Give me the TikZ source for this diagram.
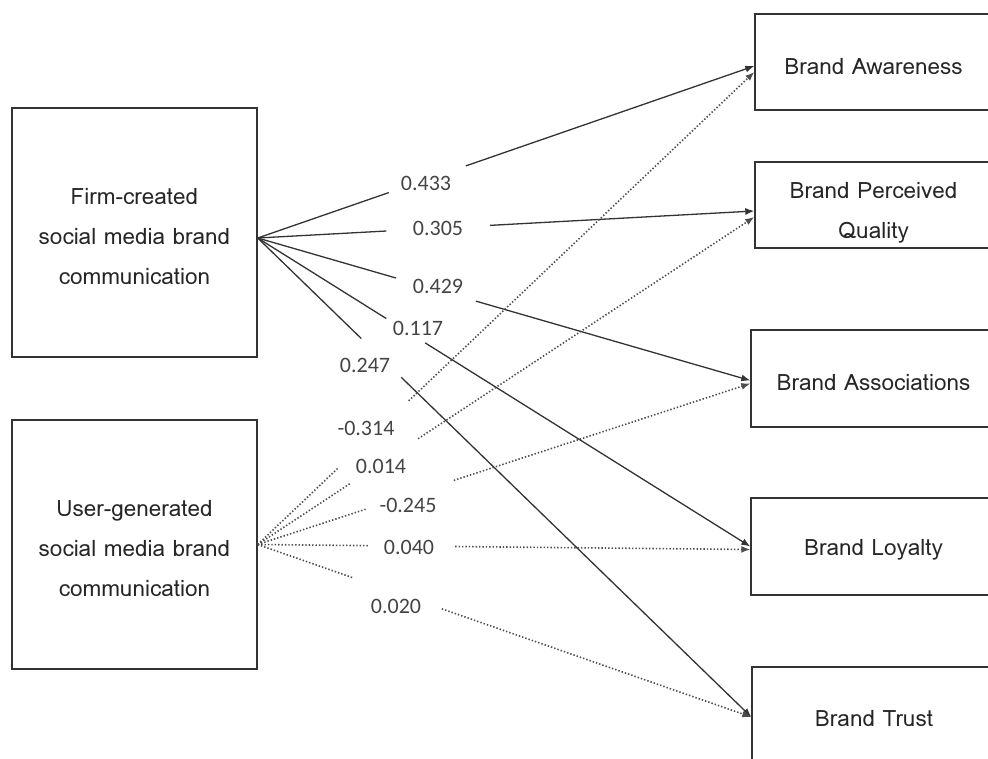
\documentclass[tikz,border=0pt]{standalone}
\usepackage{fontspec}
\setmainfont{Carlito}
\newfontfamily\boxfont{Loma}
\usetikzlibrary{calc,arrows.meta}
\definecolor{edge}{HTML}{333333}
\definecolor{dotc}{HTML}{4d4d4d}
\definecolor{numc}{HTML}{444444}
\tikzset{
  x=1pt, y=-1pt,
  frame/.style={draw=edge, line width=1.4pt, inner sep=0pt},
  caption/.style={align=center, inner sep=0pt,
    font=\boxfont\fontsize{22.5}{40}\selectfont, text=black!85},
  coef/.style={font=\fontsize{22}{24}\selectfont, text=numc, inner sep=1pt},
  firmpath/.style={draw=edge, line width=1.3pt},
  userpath/.style={draw=dotc, line width=1.6pt, dash pattern=on 1.4pt off 2pt},
  tip/.style={-{Latex[length=9pt,width=7pt]}}
}
\begin{document}
\begin{tikzpicture}
\useasboundingbox (0,0) rectangle (988,758);
\clip (0,0) rectangle (988,758);

% independent constructs
\node[frame, minimum width=245, minimum height=249] (fc) at (134.5,232.5) {};
\node[caption] (fct) at ([yshift=-4pt]fc.center) {Firm-created\\social media brand\\communication};
\node[frame, minimum width=245, minimum height=249] (uc) at (134.5,544.5) {};
\node[caption] (uct) at ([yshift=-4pt]uc.center) {User-generated\\social media brand\\communication};

% brand equity dimensions
\node[frame, minimum width=237, minimum height=96]  (ba)  at (873.5,62)    {};
\node[frame, minimum width=237, minimum height=86]  (bpq) at (873.5,205)   {};
\node[frame, minimum width=241, minimum height=97]  (bas) at (871.5,378.5) {};
\node[frame, minimum width=241, minimum height=97]  (bl)  at (871.5,546.5) {};
\node[frame, minimum width=240, minimum height=100] (bt)  at (872,717)     {};
\node[caption] (bat)  at ([yshift=-5pt]ba.center)  {Brand Awareness};
\node[caption] (bpqt) at ([yshift=-8pt]bpq.center) {Brand Perceived\\Quality};
\node[caption] (bast) at ([xshift=2pt,yshift=-4pt]bas.center) {Brand Associations};
\node[caption] (blt)  at ([xshift=2pt,yshift=-3pt]bl.center)  {Brand Loyalty};
\node[caption] (btt)  at ([xshift=2pt,yshift=-1pt]bt.center)  {Brand Trust};

% path end points
\coordinate (fo) at ([yshift=-5.5pt]fc.east);
\coordinate (uo) at (uc.east);
\coordinate (baS)  at ([yshift=-4pt]ba.west);
\coordinate (baU)  at ([yshift=-10pt]ba.west);
\coordinate (bpqS) at ([yshift=-6pt]bpq.west);
\coordinate (bpqU) at ([yshift=-12pt]bpq.west);
\coordinate (basS) at ([yshift=-2pt]bas.west);
\coordinate (basU) at ([yshift=-5pt]bas.west);
\coordinate (blS)  at ([yshift=0pt]bl.west);
\coordinate (blU)  at ([yshift=-3pt]bl.west);
\coordinate (btS)  at (bt.west);
\coordinate (btU)  at (bt.west);

% firm-created paths (solid), broken around their coefficients
\path[firmpath] (fo) -- ($(fo)!0.264!(baS)$);
\path[firmpath,tip] ($(fo)!0.419!(baS)$) -- (baS);
\path[firmpath] (fo) -- ($(fo)!0.259!(bpqS)$);
\path[firmpath,tip] ($(fo)!0.468!(bpqS)$) -- (bpqS);
\path[firmpath] (fo) -- ($(fo)!0.281!(basS)$);
\path[firmpath,tip] ($(fo)!0.443!(basS)$) -- (basS);
\path[firmpath] (fo) -- ($(fo)!0.261!(blS)$);
\path[firmpath,tip] ($(fo)!0.340!(blS)$) -- (blS);
\path[firmpath] (fo) -- ($(fo)!0.210!(btS)$);
\path[firmpath,tip] ($(fo)!0.291!(btS)$) -- (btS);

% user-generated paths (dotted)
\path[userpath] (uo) -- ($(uo)!0.163!(baU)$);
\path[userpath,tip] ($(uo)!0.304!(baU)$) -- (baU);
\path[userpath] (uo) -- ($(uo)!0.187!(bpqU)$);
\path[userpath,tip] ($(uo)!0.323!(bpqU)$) -- (bpqU);
\path[userpath] (uo) -- ($(uo)!0.219!(basU)$);
\path[userpath,tip] ($(uo)!0.398!(basU)$) -- (basU);
\path[userpath] (uo) -- ($(uo)!0.224!(blU)$);
\path[userpath,tip] ($(uo)!0.401!(blU)$) -- (blU);
\path[userpath] (uo) -- ($(uo)!0.193!(btU)$);
\path[userpath,tip] ($(uo)!0.373!(btU)$) -- (btU);

% path coefficients
\node[coef] (k1)  at (426,183) {0.433};
\node[coef] (k2)  at (438,228) {0.305};
\node[coef] (k3)  at (438,286) {0.429};
\node[coef] (k4)  at (418,328) {0.117};
\node[coef] (k5)  at (365,365) {0.247};
\node[coef] (k6)  at (366,428) {-0.314};
\node[coef] (k7)  at (381,466) {0.014};
\node[coef] (k8)  at (408,505) {-0.245};
\node[coef] (k9)  at (409,547) {0.040};
\node[coef] (k10) at (396,606) {0.020};
\end{tikzpicture}
\end{document}
